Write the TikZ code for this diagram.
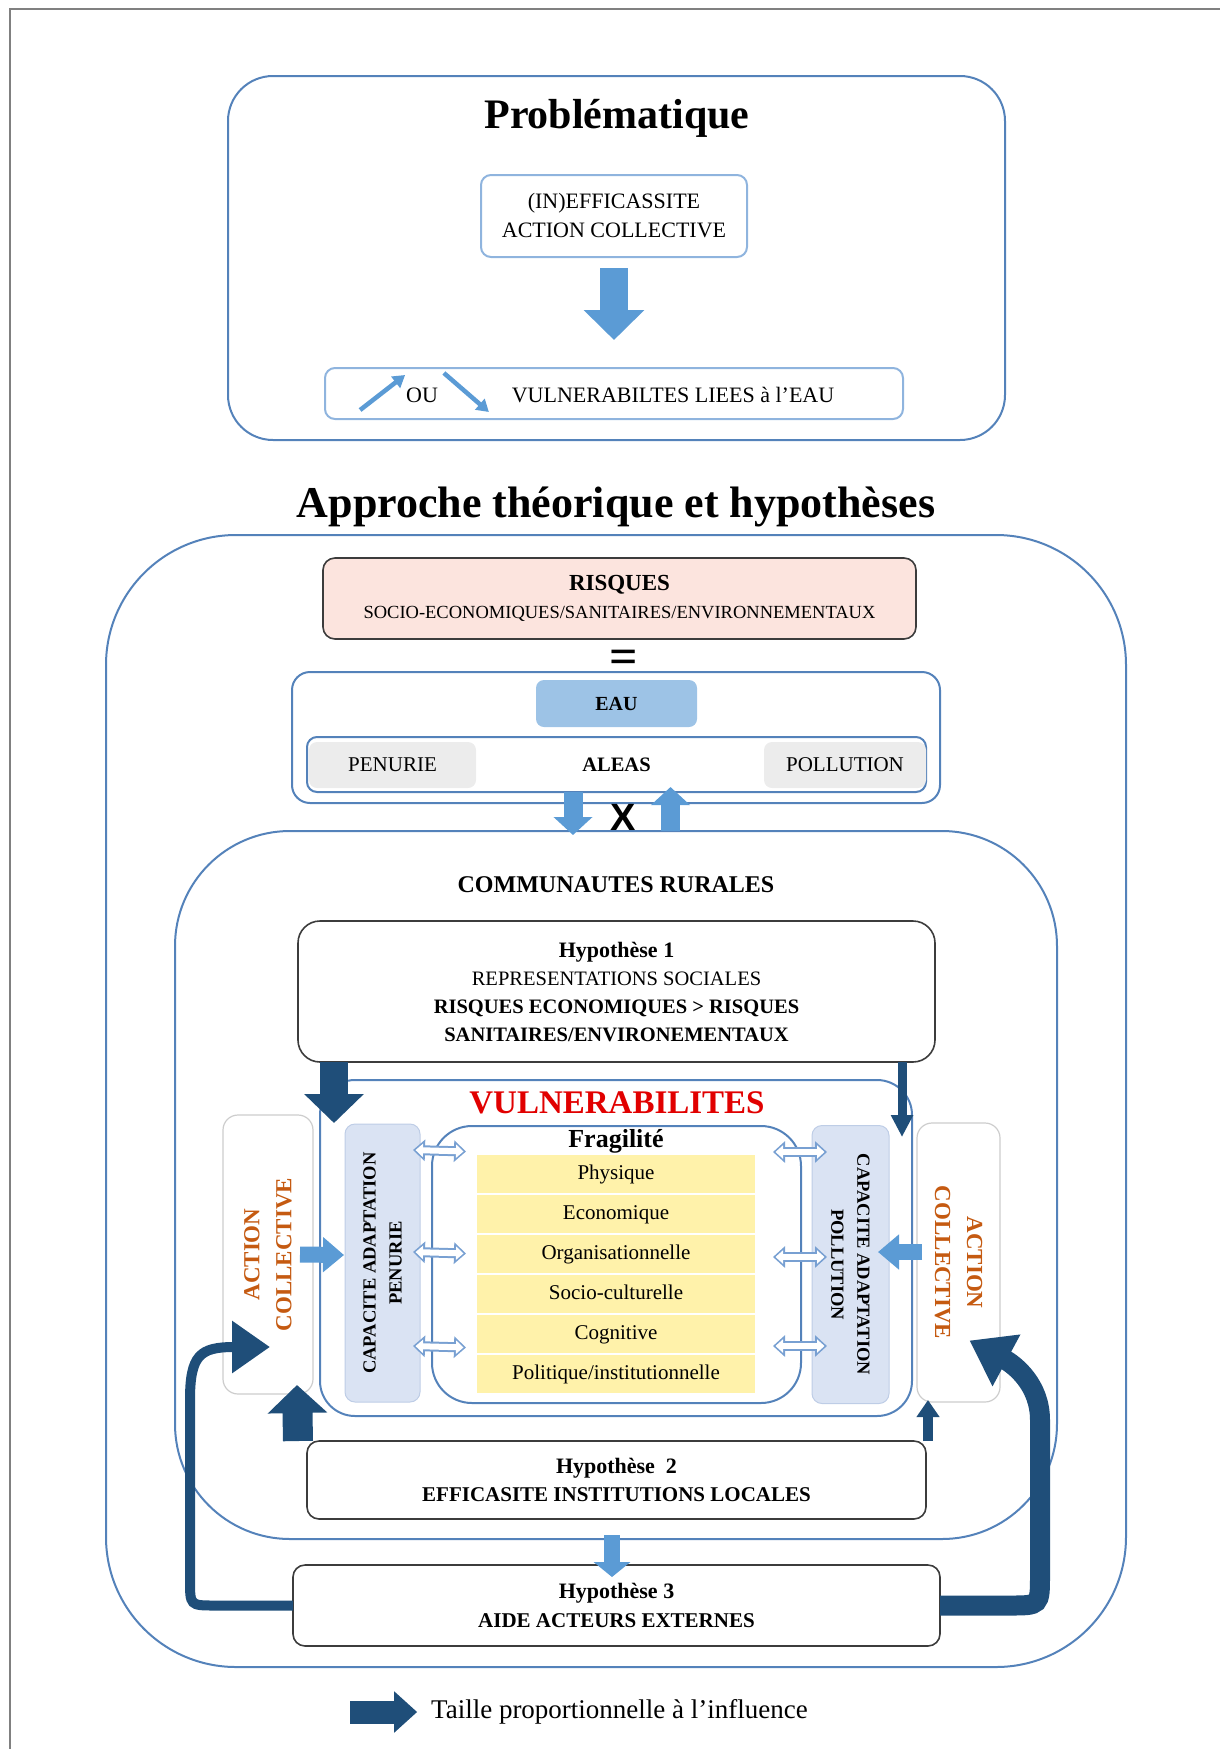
\documentclass[tikz,border=0pt]{standalone}
\usepackage{fontspec}
\setmainfont{Liberation Serif}
\newfontfamily\xfont{Liberation Sans}
\usetikzlibrary{arrows.meta,calc}
\newcommand{\fsz}[2]{\fontsize{#1}{#2}\selectfont}
\definecolor{boxblue}{RGB}{84,130,186}
\definecolor{lightline}{RGB}{143,180,222}
\definecolor{arrowblue}{RGB}{91,155,213}
\definecolor{navy}{RGB}{31,78,121}
\definecolor{riskpink}{RGB}{252,228,222}
\definecolor{darkline}{RGB}{60,60,60}
\definecolor{eaublue}{RGB}{157,195,230}
\definecolor{palegray}{RGB}{236,236,236}
\definecolor{paleyellow}{RGB}{255,242,170}
\definecolor{capblue}{RGB}{218,227,243}
\definecolor{capline}{RGB}{190,205,230}
\definecolor{actline}{RGB}{205,205,205}
\definecolor{actorange}{RGB}{197,90,17}
\definecolor{vulred}{RGB}{225,0,0}
\definecolor{hollowblue}{RGB}{120,160,210}
\definecolor{framegray}{RGB}{128,128,128}
\begin{document}
\begin{tikzpicture}[x=1pt,y=-1pt]
  \tikzstyle{every node}=[inner sep=0pt,outer sep=0pt,align=center,font=\fsz{21}{28}]
  \tikzstyle{bluebox}=[draw=boxblue,line width=2pt]
  \tikzstyle{lightbox}=[draw=lightline,line width=2pt,rounded corners=10pt]
  \tikzstyle{darkbox}=[draw=darkline,line width=1.6pt,fill=white]
  \tikzstyle{graybox}=[fill=palegray,rounded corners=8pt,minimum height=46pt]
  \tikzstyle{capbox}=[draw=capline,fill=capblue,line width=1pt,rounded corners=10pt,minimum width=278pt,font=\fsz{18.5}{26}\bfseries]
  \tikzstyle{actbox}=[draw=actline,fill=white,line width=1.2pt,rounded corners=15pt,minimum width=279pt,text=actorange,font=\fsz{23}{32}\bfseries]
  \tikzstyle{smallarrow}=[draw=arrowblue,line width=4.5pt,-{Triangle[width=14pt,length=12pt]}]
  \tikzstyle{fatblue}=[draw=arrowblue,line width=28pt,-{Triangle[width=59pt,length=30pt]}]
  \tikzstyle{medblue}=[draw=arrowblue,line width=19pt,-{Triangle[width=38pt,length=18pt]}]
  \tikzstyle{sideblue}=[draw=arrowblue,line width=16pt,-{Triangle[width=34pt,length=21pt]}]
  \tikzstyle{hollow}=[draw=hollowblue,line width=10pt,>={Triangle[width=21pt,length=12pt]},<->,
    postaction={draw=white,line width=6pt,>={Triangle[width=13pt,length=7.5pt]},<->,shorten <=2.5pt,shorten >=2.5pt}]
  \useasboundingbox (0,0) rectangle (1220,1749);
  \draw [framegray,line width=2.5pt] (1220,9) -- (10,9) -- (10,1749);

  \node [bluebox,rounded corners=45pt,minimum width=777pt,minimum height=364pt] (prob) at (616.5,258) {};
  \node [font=\fsz{42}{42}\bfseries] (probt) at (617,118) {Problématique};
  \node [lightbox,minimum width=266pt,minimum height=82pt,font=\fsz{22}{29}] (eff) at (614,216) {(IN)EFFICASSITE\\ACTION COLLECTIVE};
  \node [lightbox,minimum width=578pt,minimum height=51pt] (vul) at (614,393.5) {};
  \node [font=\fsz{22}{22}] (ou) at (422,395) {OU};
  \node [font=\fsz{22}{22}] (vult) at (673,395) {VULNERABILTES LIEES à l’EAU};
  \draw [smallarrow] ($(ou.west)+(-46,15)$) -- ($(ou.west)+(-1,-20)$);
  \draw [smallarrow] ($(ou.east)+(6,-22)$) -- ($(ou.east)+(51,17)$);
  \draw [fatblue,shorten <=11pt,shorten >=28pt] (eff.south) -- (vul.north);

  \node [font=\fsz{44}{44}\bfseries] (appt) at (616,507) {Approche théorique et hypothèses};
  \node [bluebox,rounded corners=130pt,minimum width=1020pt,minimum height=1132pt] (appr) at (616,1101) {};
  \node [draw=darkline,fill=riskpink,line width=1.6pt,rounded corners=12pt,minimum width=593pt,minimum height=81pt,font=\fsz{18.5}{28}] (risq) at (619.5,598.5)
    {{\fsz{23}{28}\bfseries RISQUES}\\SOCIO-ECONOMIQUES/SANITAIRES/ENVIRONNEMENTAUX};
  \node [font=\fsz{50}{50}\bfseries] (eq) at (624,662) {=};
  \node [bluebox,rounded corners=18pt,minimum width=648pt,minimum height=131pt] (eaubox) at (616,737.5) {};
  \node [fill=eaublue,rounded corners=8pt,minimum width=161pt,minimum height=47pt,font=\fsz{20}{20}\bfseries] (eau) at (616.5,703.5) {EAU};
  \node [bluebox,rounded corners=10pt,minimum width=619pt,minimum height=55pt,font=\fsz{20.5}{20.5}\bfseries] (aleas) at (616.5,764.5) {ALEAS};
  \node [graybox,minimum width=167pt] (pen) at (392.5,765) {PENURIE};
  \node [graybox,minimum width=162pt] (pol) at (845,765) {POLLUTION};

  \node [bluebox,rounded corners=115pt,minimum width=882pt,minimum height=708pt] (comm) at (616,1185) {};
  \node [font=\fsz{24}{24}\bfseries] (commt) at (616,885) {COMMUNAUTES RURALES};
  \draw [medblue] ($(aleas.south)+(-43.5,0)$) -- ($(comm.north)+(-43,4)$);
  \draw [medblue] ($(comm.north)+(54.5,0)$) -- ($(aleas.south)+(54,-5)$);
  \node [font=\xfont\fsz{38}{38}\bfseries] (x) at (623,817) {X};

  \node [darkbox,rounded corners=22pt,minimum width=637pt,minimum height=141pt,font=\fsz{20.5}{28}] (hyp1) at (616.5,991.5)
    {{\fsz{22}{28}\bfseries Hypothèse 1}\\REPRESENTATIONS SOCIALES\\\textbf{RISQUES ECONOMIQUES > RISQUES}\\\textbf{SANITAIRES/ENVIRONEMENTAUX}};
  \node [bluebox,rounded corners=35pt,minimum width=592pt,minimum height=336pt] (vulb) at (616,1248) {};
  \node [font=\fsz{33}{33}\bfseries,text=vulred] (vulbt) at (617,1103) {VULNERABILITES};
  \node [bluebox,rounded corners=40pt,minimum width=369pt,minimum height=277pt] (frag) at (616.5,1264.5) {};
  \node [font=\fsz{26}{26}\bfseries] (fragt) at (616,1141) {Fragilité};
  \matrix [row sep=2pt,nodes={fill=paleyellow,minimum width=278pt,minimum height=38pt,text height=15pt,text depth=5pt}] (rows) at (616,1274) {
    \node (f1) {Physique}; \\
    \node (f2) {Economique}; \\
    \node (f3) {Organisationnelle}; \\
    \node (f4) {Socio-culturelle}; \\
    \node (f5) {Cognitive}; \\
    \node (f6) {Politique/institutionnelle}; \\
  };
  \node [capbox,rotate=90,minimum height=75pt] (capl) at (382.5,1263) {CAPACITE ADAPTATION\\PENURIE};
  \node [capbox,rotate=-90,minimum height=77pt] (capr) at (850.5,1264.5) {CAPACITE ADAPTATION\\POLLUTION};
  \node [actbox,rotate=90,minimum height=90pt] (acl) at (268,1254.5) {ACTION\\COLLECTIVE};
  \node [actbox,rotate=-90,minimum height=83pt] (acr) at (958.5,1262.5) {ACTION\\COLLECTIVE};
  \draw [hollow] ($(capl.center)+(30.5,-113)$) -- ($(frag.center)+(-150.5,-113)$);
  \draw [hollow] ($(capl.center)+(30.5,-11)$) -- ($(frag.center)+(-150.5,-11)$);
  \draw [hollow] ($(capl.center)+(30.5,83)$) -- ($(frag.center)+(-150.5,83)$);
  \draw [hollow] ($(frag.center)+(156.5,-112.5)$) -- ($(capr.center)+(-23.5,-112.5)$);
  \draw [hollow] ($(frag.center)+(156.5,-7.5)$) -- ($(capr.center)+(-23.5,-7.5)$);
  \draw [hollow] ($(frag.center)+(156.5,81.5)$) -- ($(capr.center)+(-23.5,81.5)$);
  \draw [sideblue] ($(acl.center)+(32,0)$) -- ($(capl.center)+(-38.5,-8)$);
  \draw [sideblue] ($(acr.center)+(-36.5,-10.5)$) -- ($(capr.center)+(27.5,-12.5)$);

  \node [darkbox,rounded corners=12pt,minimum width=619pt,minimum height=78pt,font=\fsz{21}{28}\bfseries] (hyp2) at (616.5,1480)
    {{\fsz{22}{28}Hypothèse~ 2}\\EFFICASITE INSTITUTIONS LOCALES};
  \node [darkbox,rounded corners=12pt,minimum width=647pt,minimum height=81pt,font=\fsz{21}{29}\bfseries] (hyp3) at (616.5,1605.5)
    {{\fsz{22}{29}Hypothèse 3}\\AIDE ACTEURS EXTERNES};

  \draw [navy,line width=28pt,-{Triangle[width=58pt,length=29pt]}] ($(hyp1.south west)+(36,0)$) -- ($(vulb.north west)+(14,43)$);
  \draw [navy,line width=9pt,-{Triangle[width=21pt,length=22pt]}] ($(hyp1.south east)+(-33,0)$) -- ($(vulb.north east)+(-10,57)$);
  \draw [navy,line width=30pt,-{Triangle[width=58pt,length=28pt]}] ($(hyp2.north west)+(-9,0)$) -- ($(acl.center)+(29,130.5)$);
  \draw [navy,line width=10pt,-{Triangle[width=22pt,length=17pt]}] ($(hyp2.north east)+(2,0)$) -- ($(acr.center)+(-30.5,137.5)$);
  \draw [medblue,line width=16pt,-{Triangle[width=36pt,length=15pt]}] ($(hyp2.south)+(-4.5,16)$) -- ($(hyp3.north)+(-4.5,12)$);
  \draw [navy,line width=10pt,-{Triangle[width=50pt,length=38pt]}] (hyp3.west) -- (215,1605.5) .. controls (190,1605.5) .. (190,1580)
    -- (190,1400) .. controls (190,1355) and (200,1347) .. ($(acl.center)+(2,92.5)$);
  \draw [navy,line width=20pt,-{Triangle[width=56pt,length=42pt]}] (hyp3.east) -- (1010,1605.5) .. controls (1040,1605.5) .. (1040,1575)
    -- (1040,1420) .. controls (1040,1385) and (1015,1365) .. ($(acr.center)+(11,78)$);

  \node [font=\fsz{27}{27}] (leg) at (619.5,1712) {Taille proportionnelle à l’influence};
  \draw [navy,line width=23pt,-{Triangle[width=40pt,length=23pt]}] ($(leg.west)+(-81,0)$) -- ($(leg.west)+(-14,0)$);
\end{tikzpicture}
\end{document}
